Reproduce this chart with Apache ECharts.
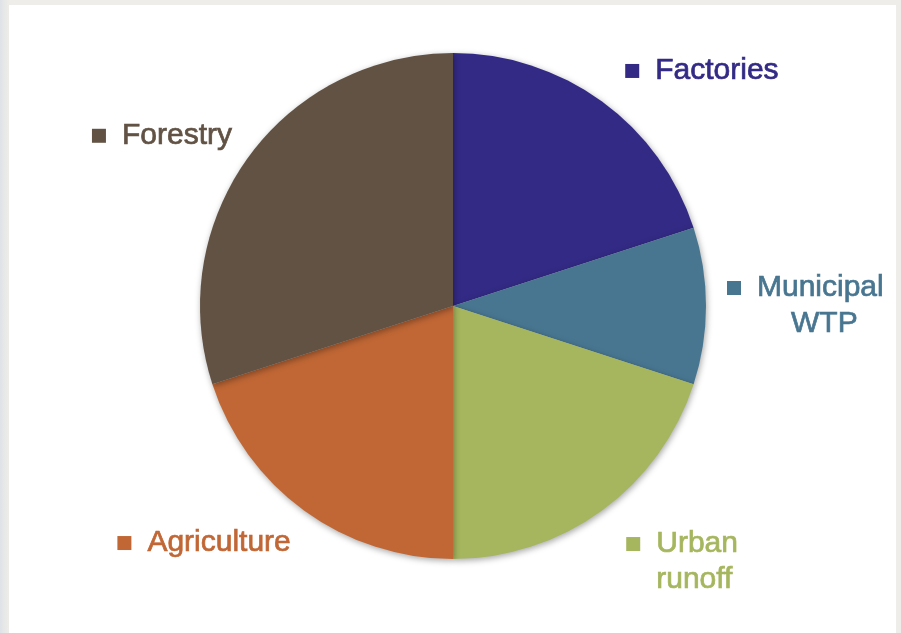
<!DOCTYPE html>
<html>
<head>
<meta charset="utf-8">
<script src="https://cdn.jsdelivr.net/npm/echarts@6/dist/echarts.min.js"></script>
<style>
  html, body { margin: 0; padding: 0; }
  body { width: 901px; height: 633px; background: linear-gradient(90deg, #dfe3e7 0px, #eeede9 9px); position: relative; overflow: hidden; }
  .panel { position: absolute; left: 9px; top: 5px; width: 887px; height: 628px; background: #fff; }
  #main { position: absolute; left: 0; top: 0; width: 901px; height: 633px; }
</style>
</head>
<body>
<div class="panel"></div>
<div id="main"></div>
<script>
// 污染来源占比
var sources = ['Factories', 'Municipal WTP', 'Urban runoff', 'Agriculture', 'Forestry']
var shares = [20, 10, 20, 20, 30]
var colors = ['#332a85', '#487691', '#a5b65e', '#c16735', '#615244']

// 标签文字（换行）
var labelLines = [
  ['Factories'],
  ['Municipal', 'WTP'],
  ['Urban', 'runoff'],
  ['Agriculture'],
  ['Forestry']
]
// 第二行缩进、标签微调
var indent2 = [30, 64, 30, 30, 30]
var labelShift = [[-5, 2], [-24, 0], [-4, 19], [15, 0], [21, 2]]
var labelAlign = ['left', 'left', 'left', 'right', 'right']

var font = '"Liberation Sans", Arial, sans-serif'

var data = sources.map(function (name, i) {
  var rich = {
    m: { width: 14, height: 14, backgroundColor: colors[i] },
    g: { width: 16 },
    sp: { width: indent2[i] },
    t: {
      color: colors[i], fontSize: 30, fontFamily: font, lineHeight: 36,
      textBorderColor: colors[i], textBorderWidth: 0.7
    }
  }
  var lines = labelLines[i]
  var text = '{m|}{g|}{t|' + lines[0] + '}'
  for (var k = 1; k < lines.length; k++) {
    text += '\n{sp|}{t|' + lines[k] + '}'
  }
  return {
    name: name,
    value: shares[i],
    itemStyle: { color: colors[i] },
    label: { formatter: text, rich: rich, align: labelAlign[i] }
  }
})

var myChart = echarts.init(document.getElementById('main'))
var option = {
  animation: false,
  series: [
    {
      type: 'pie',
      center: [453, 306],
      radius: 253,
      startAngle: 90,
      clockwise: true,
      avoidLabelOverlap: false,
      label: {
        show: true,
        position: 'outside'
      },
      labelLine: { show: false, length: 40, length2: 0 },
      labelLayout: function (params) {
        var s = labelShift[params.dataIndex]
        return { dx: s[0], dy: s[1] }
      },
      itemStyle: {
        shadowBlur: 6,
        shadowColor: 'rgba(0,0,0,0.35)',
        shadowOffsetX: 1,
        shadowOffsetY: 2
      },
      emphasis: { disabled: true },
      data: data
    }
  ]
}
myChart.setOption(option)
</script>
</body>
</html>
